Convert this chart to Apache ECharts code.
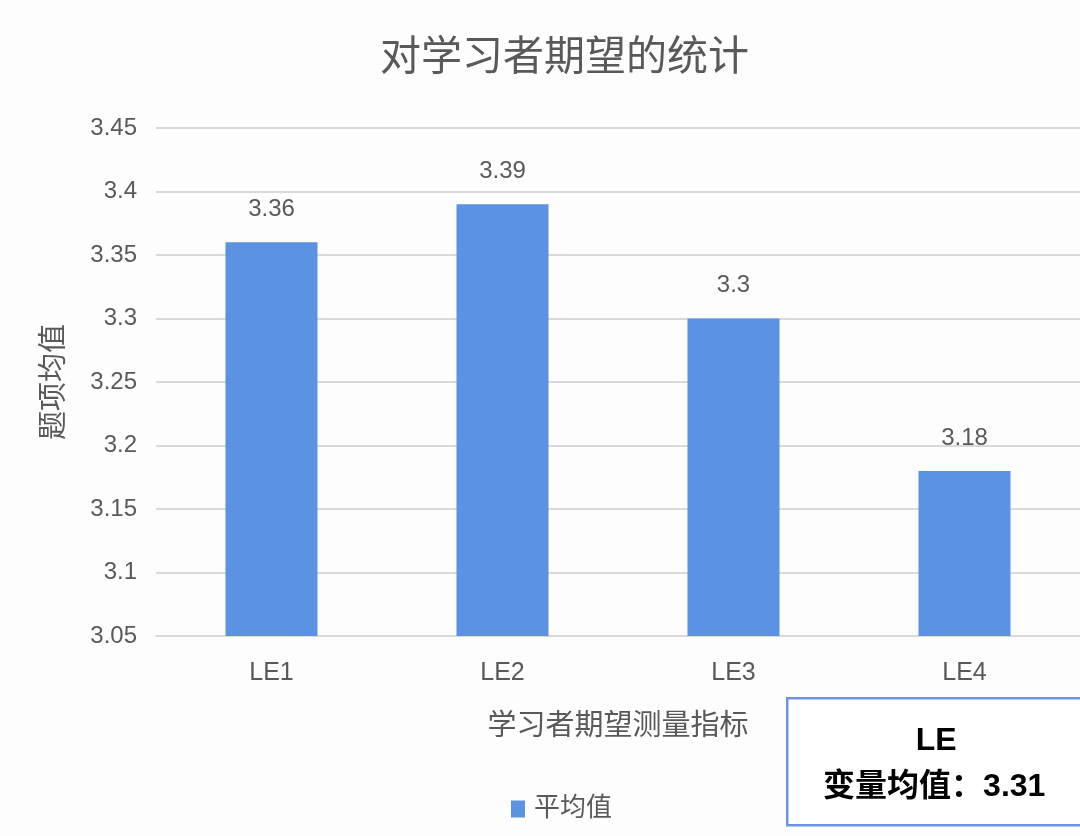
<!DOCTYPE html>
<html>
<head>
<meta charset="utf-8">
<script src="https://cdn.jsdelivr.net/npm/echarts@6/dist/echarts.min.js"></script>
<style>
html,body{margin:0;padding:0;background:#fdfdfd;}
#chart{width:1080px;height:836px;}
</style>
</head>
<body>
<div id="chart"></div>
<script>
const titleText = '对学习者期望的统计';
const categories = ['LE1', 'LE2', 'LE3', 'LE4'];
const seriesName = '平均值';
const values = [3.36, 3.39, 3.3, 3.18];
const yMin = 3.05, yMax = 3.45, yStep = 0.05;
const yAxisName = '题项均值';
const xAxisName = '学习者期望测量指标';
const boxTitle = 'LE';
const boxLabel = '变量均值：';
const boxMean = 3.31;

const FONT = '"Liberation Sans", "Noto Sans CJK SC", sans-serif';
const GREY = '#595959';
const BAR = '#5b92e1';

const chart = echarts.init(document.getElementById('chart'));
chart.setOption({
  backgroundColor: '#fdfdfd',
  animation: false,
  textStyle: { fontFamily: FONT },
  title: {
    text: titleText,
    left: 375,
    top: 33,
    textStyle: { fontFamily: FONT, fontSize: 41, fontWeight: 'normal', color: GREY }
  },
  grid: { left: 156, top: 128, width: 930, height: 508 },
  legend: {
    data: [seriesName],
    left: 506,
    top: 791,
    itemWidth: 14,
    itemHeight: 17,
    icon: 'rect',
    textStyle: { fontFamily: FONT, fontSize: 26, color: GREY, padding: [0, 0, 0, 4] }
  },
  xAxis: {
    type: 'category',
    data: categories,
    name: xAxisName,
    nameLocation: 'middle',
    nameGap: 76,
    nameTextStyle: { fontFamily: FONT, fontSize: 29, color: GREY },
    axisLine: { show: true, lineStyle: { color: '#d9d9d9', width: 2 } },
    axisTick: { show: false },
    axisLabel: { fontFamily: FONT, fontSize: 25, color: GREY, margin: 25 }
  },
  yAxis: {
    type: 'value',
    min: yMin,
    max: yMax,
    interval: yStep,
    name: yAxisName,
    nameLocation: 'middle',
    nameGap: 86,
    nameTextStyle: { fontFamily: FONT, fontSize: 29, color: GREY },
    axisLine: { show: false },
    axisTick: { show: false },
    axisLabel: { fontFamily: FONT, fontSize: 24, color: GREY, margin: 19 },
    splitLine: { lineStyle: { color: '#d9d9d9', width: 2 } }
  },
  series: [{
    name: seriesName,
    type: 'bar',
    data: values,
    barWidth: 92,
    itemStyle: { color: BAR },
    label: {
      show: true,
      position: 'top',
      distance: 21,
      fontFamily: FONT,
      fontSize: 24,
      color: GREY
    }
  }],
  graphic: [{
    type: 'group',
    left: 786,
    top: 697,
    children: [
      {
        type: 'rect',
        shape: { x: 0, y: 0, width: 300, height: 127 },
        style: { fill: '#ffffff', stroke: '#6f93dc', lineWidth: 2.5 }
      },
      {
        type: 'text',
        x: 149, y: 43,
        style: {
          text: boxTitle, align: 'center', verticalAlign: 'middle',
          font: 'bold 32px ' + FONT, fill: '#000000'
        }
      },
      {
        type: 'text',
        x: 147, y: 89,
        style: {
          text: boxLabel + boxMean, align: 'center', verticalAlign: 'middle',
          font: 'bold 32px ' + FONT, fill: '#000000'
        }
      }
    ]
  }]
});
</script>
</body>
</html>
